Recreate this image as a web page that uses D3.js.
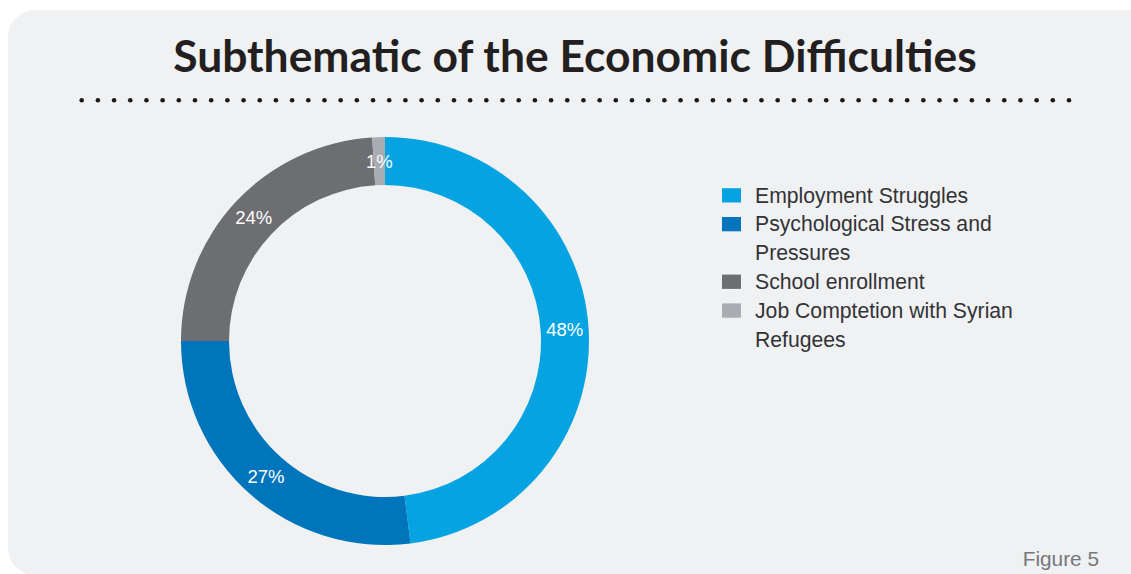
<!DOCTYPE html>
<html>
<head>
<meta charset="utf-8">
<script src="https://cdn.jsdelivr.net/npm/d3@7"></script>
<style>
  html, body { margin: 0; padding: 0; background: #ffffff; }
  svg { display: block; }
</style>
</head>
<body>
<svg id="chart" width="1131" height="574"></svg>
<script>
// Shares of each sub-theme (percent)
const categories = [
  "Employment Struggles",
  "Psychological Stress and Pressures",
  "School enrollment",
  "Job Comptetion with Syrian Refugees"
];
const values = [48, 27, 24, 1];
const colors = ["#05a3e1", "#0075bc", "#6d6e71", "#a7adb3"];
// Legend text, broken into lines as shown
const legendLines = [
  ["Employment Struggles"],
  ["Psychological Stress and", "Pressures"],
  ["School enrollment"],
  ["Job Comptetion with Syrian", "Refugees"]
];
const titleText = "Subthematic of the Economic Difficulties";
const figureLabel = "Figure 5";

const svg = d3.select("#chart");

// Rounded panel
svg.append("rect")
  .attr("x", 8).attr("y", 10)
  .attr("width", 1150).attr("height", 565)
  .attr("rx", 27).attr("ry", 27)
  .attr("fill", "#f0f1f3");

// Title, fitted to its width
const title = svg.append("text")
  .attr("x", 575).attr("y", 72)
  .attr("text-anchor", "middle")
  .attr("font-family", "Lato, 'Open Sans', sans-serif")
  .attr("font-weight", 700)
  .attr("font-size", 42)
  .attr("fill", "#231f20")
  .text(titleText);
const tw = title.node().getComputedTextLength();
title.attr("font-size", 42 * 804 / tw);

// Dotted rule under the title
const dotX = d3.scaleLinear().domain([0, 61]).range([81.7, 1069]);
svg.append("g").selectAll("circle")
  .data(d3.range(62))
  .join("circle")
  .attr("cx", d => dotX(d))
  .attr("cy", 100.3)
  .attr("r", 2.3)
  .attr("fill", "#1a1a1a");

// Donut
const cx = 385, cy = 341, outerR = 204, innerR = 156;
const data = categories.map((c, i) => ({ name: c, value: values[i], color: colors[i] }));
const pie = d3.pie().value(d => d.value).sort(null);
const arc = d3.arc().innerRadius(innerR).outerRadius(outerR);
const labelArc = d3.arc().innerRadius(180).outerRadius(180);
const arcs = pie(data);

const g = svg.append("g").attr("transform", `translate(${cx},${cy})`);
g.selectAll("path")
  .data(arcs)
  .join("path")
  .attr("d", arc)
  .attr("fill", d => d.data.color);

g.selectAll("text")
  .data(arcs)
  .join("text")
  .attr("transform", d => `translate(${labelArc.centroid(d)})`)
  .attr("text-anchor", "middle")
  .attr("dy", "0.35em")
  .attr("font-family", "'Liberation Sans', Arial, sans-serif")
  .attr("font-size", 18.5)
  .attr("fill", "#ffffff")
  .text(d => d.data.value + "%");

// Legend
const lineH = 28.8;
const legend = svg.append("g").attr("font-family", "'Liberation Sans', Arial, sans-serif");
let row = 0;
legendLines.forEach((lines, i) => {
  const baseY = 202.5 + row * lineH;
  legend.append("rect")
    .attr("x", 722).attr("y", baseY - 14.3)
    .attr("width", 19).attr("height", 14.3)
    .attr("fill", colors[i]);
  lines.forEach((ln, j) => {
    legend.append("text")
      .attr("x", 755).attr("y", baseY + j * lineH)
      .attr("font-size", 21.2)
      .attr("fill", "#333336")
      .text(ln);
  });
  row += lines.length;
});

// Figure caption
svg.append("text")
  .attr("x", 1099).attr("y", 565.7)
  .attr("text-anchor", "end")
  .attr("font-family", "'Liberation Sans', Arial, sans-serif")
  .attr("font-size", 20.8)
  .attr("fill", "#76787b")
  .text(figureLabel);
</script>
</body>
</html>
